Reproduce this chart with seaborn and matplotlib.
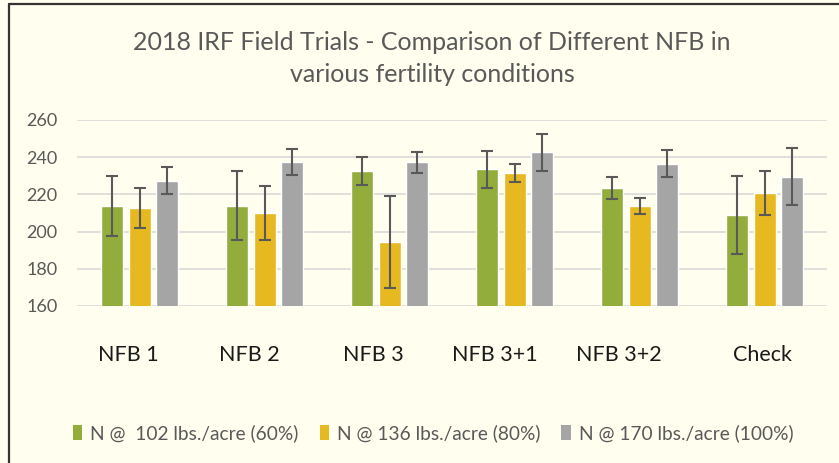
import matplotlib.pyplot as plt
import matplotlib.transforms as mtransforms
from matplotlib.lines import Line2D
from matplotlib.patches import Rectangle
import pandas as pd
import seaborn as sns

# data
treatments = ["NFB 1", "NFB 2", "NFB 3", "NFB 3+1", "NFB 3+2", "Check"]
rates = ["N @  102 lbs./acre (60%)", "N @ 136 lbs./acre (80%)", "N @ 170 lbs./acre (100%)"]
yield_60 = [213.8, 214.0, 232.6, 233.5, 223.5, 209.0]
yield_80 = [212.9, 210.0, 194.4, 231.3, 213.8, 220.6]
yield_100 = [227.4, 237.4, 237.2, 242.6, 236.5, 229.6]
err_60 = [16.2, 18.5, 7.7, 10.0, 5.8, 21.0]
err_80 = [10.8, 14.6, 24.7, 4.8, 4.1, 11.9]
err_100 = [7.1, 7.1, 5.5, 9.9, 7.3, 15.1]
y_ticks = [160, 180, 200, 220, 240, 260]

colors = ["#93AD3D", "#E6B920", "#A5A5A5"]
bg = "#FFFEEF"
text_grey = "#595959"

df = pd.DataFrame({
    "treatment": treatments * 3,
    "rate": [r for r in rates for _ in treatments],
    "yield": yield_60 + yield_80 + yield_100,
})
errors = [err_60, err_80, err_100]

sns.set_theme(style="white")
plt.rcParams['font.family'] = ['Lato', 'DejaVu Sans']

fig = plt.figure(figsize=(8.39, 4.63), dpi=100, facecolor=bg)
ax = fig.add_axes([77 / 839, 1 - 306 / 463, 750 / 839, 186 / 463])
ax.set_facecolor(bg)

sns.barplot(data=df, x="treatment", y="yield", hue="rate", order=treatments,
            hue_order=rates, palette=colors, width=0.66, gap=0.2,
            errorbar=None, saturation=1, legend=False, ax=ax, zorder=2)

# error bars on top of each bar
for container, err in zip(ax.containers, errors):
    xs = [b.get_x() + b.get_width() / 2 for b in container]
    ys = [b.get_height() for b in container]
    ax.errorbar(xs, ys, yerr=err, fmt='none', ecolor=text_grey,
                elinewidth=1.5, capsize=4, capthick=1.5, zorder=3)

ax.set_ylim(160, 260)
ax.set_xlim(-0.5, 5.5)
ax.set_yticks(y_ticks)
ax.yaxis.grid(True, color="#D9D9D9", linewidth=1.2, zorder=0)
ax.set_axisbelow(True)
for spine in ax.spines.values():
    spine.set_visible(False)
ax.set_xlabel("")
ax.set_ylabel("")
ax.tick_params(axis='y', length=0, pad=14, labelsize=13, labelcolor=text_grey)
ax.tick_params(axis='x', length=0, pad=28, labelsize=15.5, labelcolor="#1A1A1A")

# category labels sit a little left of their groups in the original
shifts = [-11, -15, -16, -20, -21, -2]
for lab, dx in zip(ax.get_xticklabels(), shifts):
    lab.set_transform(lab.get_transform() +
                      mtransforms.ScaledTranslation(dx / 100, 0, fig.dpi_scale_trans))

fig.text(432 / 839, 1 - 43 / 463, "2018 IRF Field Trials - Comparison of Different NFB in",
         ha='center', va='center', fontsize=18, color=text_grey)
fig.text(432 / 839, 1 - 75 / 463, "various fertility conditions",
         ha='center', va='center', fontsize=18, color=text_grey)

handles = [Rectangle((0, 0), 1, 1, fc=c, ec='none') for c in colors]
leg = fig.legend(handles, rates, loc='center', bbox_to_anchor=(433 / 839, 1 - 433 / 463),
                 ncol=3, frameon=False, fontsize=13.8, handlelength=0.5, handleheight=0.8,
                 handletextpad=0.4, columnspacing=1.1)
for t in leg.get_texts():
    t.set_color(text_grey)

# chart frame: top and left edges only
fig.add_artist(Line2D([9 / 839, 1], [1 - 4 / 463, 1 - 4 / 463], color="#333333", linewidth=1.6))
fig.add_artist(Line2D([9 / 839, 9 / 839], [0, 1 - 4 / 463], color="#333333", linewidth=1.6))

fig.savefig("out.png", dpi=100, facecolor=bg)
